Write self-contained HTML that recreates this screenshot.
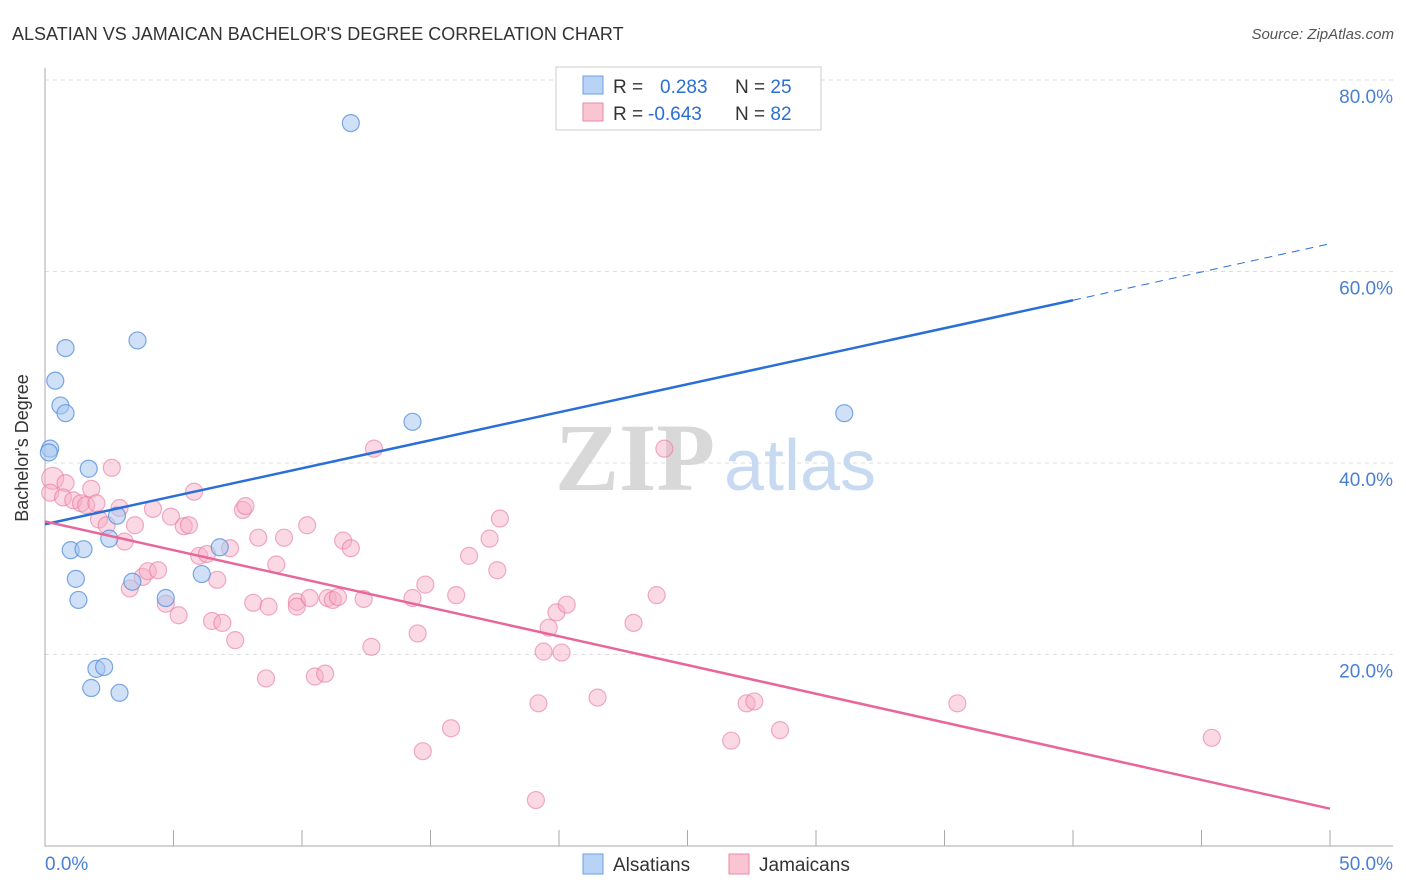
<!DOCTYPE html>
<html><head><meta charset="utf-8"><style>
body{margin:0;background:#fff;font-family:"Liberation Sans",sans-serif;}
svg{display:block}
</style></head><body>
<svg id="c" width="1406" height="892">
<text x="12" y="40" font-size="18" fill="#333">ALSATIAN VS JAMAICAN BACHELOR'S DEGREE CORRELATION CHART</text>
<text x="1394" y="39" font-size="15" fill="#555" font-style="italic" text-anchor="end">Source: ZipAtlas.com</text>
<g id="grid"></g>
<text x="635" y="490" font-size="96" fill="#d8d8d8" font-family="Liberation Serif" font-weight="bold" text-anchor="middle">ZIP</text>
<text x="800" y="490" font-size="72" fill="#c8daf2" text-anchor="middle">atlas</text>
<g id="pts"></g>
<text x="36" y="456" font-size="18" fill="#333" text-anchor="middle" transform="rotate(-90 28 456)">Bachelor's Degree</text>
<g>
<rect x="556" y="67" width="265" height="63" fill="#fff" stroke="#ccc"/>
<rect x="583" y="76" width="20" height="18" fill="#b8d3f5" stroke="#6a9fe0"/>
<rect x="583" y="103" width="20" height="18" fill="#f9c5d3" stroke="#e98aa8"/>
<text x="613" y="93" font-size="19" fill="#333">R = <tspan fill="#2a6fd6" x="660">0.283</tspan><tspan fill="#333" x="735">N = </tspan><tspan fill="#2a6fd6">25</tspan></text>
<text x="613" y="120" font-size="19" fill="#333">R = <tspan fill="#2a6fd6" x="648">-0.643</tspan><tspan fill="#333" x="735">N = </tspan><tspan fill="#2a6fd6">82</tspan></text>
</g>
<g>
<rect x="583" y="854" width="20" height="20" fill="#b8d3f5" stroke="#6a9fe0"/>
<text x="613" y="871" font-size="19" fill="#333">Alsatians</text>
<rect x="729" y="854" width="20" height="20" fill="#f9c5d3" stroke="#e98aa8"/>
<text x="759" y="871" font-size="19" fill="#333">Jamaicans</text>
</g>
</svg>
<script>
const yTicks=[20,40,60,80];
const xTickLabels=["0.0%","50.0%"];
const blueX=[11.9,0.8,3.6,0.4,0.6,0.8,14.3,31.1,0.2,0.15,1.7,2.8,2.5,1.0,1.5,6.8,1.2,1.3,4.7,3.4,6.1,2.0,2.3,1.8,2.9];
const blueY=[75.5,52.0,52.8,48.6,46.0,45.2,44.3,45.2,41.5,41.1,39.4,34.5,32.1,30.9,31.0,31.2,27.9,25.7,25.9,27.6,28.4,18.5,18.7,16.5,16.0];
const pinkX=[0.3,0.2,0.8,0.7,1.1,1.4,1.6,1.8,2.0,2.6,2.1,2.4,2.9,3.1,3.5,3.3,3.8,4.0,4.4,4.2,4.9,4.7,5.2,5.4,5.6,5.8,6.0,6.3,6.5,6.7,6.9,7.2,7.4,7.7,7.8,8.1,8.3,8.7,9.0,9.3,8.6,9.8,9.8,10.2,10.3,10.5,10.9,11.0,11.2,11.4,11.6,11.9,12.4,12.7,12.8,14.3,14.5,14.8,14.7,16.0,15.8,16.5,17.3,17.6,17.7,19.2,19.4,19.6,19.9,20.3,20.1,21.5,22.9,23.8,24.1,26.7,27.3,27.6,28.6,35.5,45.4,19.1];
const pinkY=[38.4,36.9,37.9,36.4,36.1,35.8,35.6,37.3,35.8,39.5,34.1,33.5,35.3,31.8,33.5,26.9,28.1,28.7,28.8,35.2,34.4,25.3,24.1,33.4,33.5,37.0,30.3,30.5,23.5,27.8,23.3,31.1,21.5,35.1,35.5,25.4,32.2,25.0,29.4,32.2,17.5,25.5,25.0,33.5,25.9,17.7,18.0,25.9,25.7,26.0,31.9,31.1,25.8,20.8,41.5,25.9,22.2,27.3,9.9,26.2,12.3,30.3,32.1,28.8,34.2,14.9,20.3,22.8,24.4,25.2,20.2,15.5,23.3,26.2,41.5,11.0,14.9,15.1,12.1,14.9,11.3,4.8];
const blueLine=[[0,33.6],[40,57.0]], blueDash=[[40,57.0],[50,62.9]];
const pinkLine=[[0,33.9],[50,3.9]];
const X=v=>45+v/50*1285, Y=v=>846-v/20*191.5;
const ns="http://www.w3.org/2000/svg";
function mk(tag,attrs,parent){const e=document.createElementNS(ns,tag);for(const k in attrs)e.setAttribute(k,attrs[k]);parent.appendChild(e);return e;}
const g=document.getElementById('grid'), p=document.getElementById('pts');
yTicks.forEach(t=>{
 const l=mk('line',{x1:45,x2:1393,y1:Y(t),y2:Y(t),stroke:'#ddd','stroke-dasharray':'4,4'},g);
 
 
 const tx=mk('text',{x:1393,y:Y(t)+23,'font-size':19,fill:'#4a7fd6','text-anchor':'end'},g);
 tx.textContent=t.toFixed(1)+'%';
 
 
});
const ax=mk('path',{d:'M45,68 L45,846 L1393,846',fill:'none',stroke:'#aaa'},g);


for(let i=0;i<=10;i++){const tk=mk('line',{x1:X(i*5),x2:X(i*5),y1:830,y2:846,stroke:'#aaa'},g);
 
 }
[[0,'start'],[50,'end']].forEach((a,i)=>{const t=mk('text',{x:X(a[0])+(i?63:0),y:870,'font-size':19,fill:'#4a7fd6','text-anchor':a[1]},g);
 t.textContent=xTickLabels[i];
 
 });
pinkX.forEach((x,i)=>{const c=mk('circle',{cx:X(x),cy:Y(pinkY[i]),r:i<1?11:8.5,fill:'rgba(247,170,195,0.45)',stroke:'rgba(232,120,160,0.6)','stroke-width':1.2},p);
 
 });
blueX.forEach((x,i)=>{const c=mk('circle',{cx:X(x),cy:Y(blueY[i]),r:8.5,fill:'rgba(170,200,240,0.55)',stroke:'rgba(80,140,220,0.75)','stroke-width':1.2},p);
 
 });
const bl=mk('line',{x1:X(blueLine[0][0]),y1:Y(blueLine[0][1]),x2:X(blueLine[1][0]),y2:Y(blueLine[1][1]),stroke:'#2a6fd6','stroke-width':2.5},p);


const bd=mk('line',{x1:X(blueDash[0][0]),y1:Y(blueDash[0][1]),x2:X(blueDash[1][0]),y2:Y(blueDash[1][1]),stroke:'#2a6fd6','stroke-width':1,'stroke-dasharray':'8,6'},p);


const pl=mk('line',{x1:X(pinkLine[0][0]),y1:Y(pinkLine[0][1]),x2:X(pinkLine[1][0]),y2:Y(pinkLine[1][1]),stroke:'#e8669a','stroke-width':2.5},p);


</script>
</body></html>
